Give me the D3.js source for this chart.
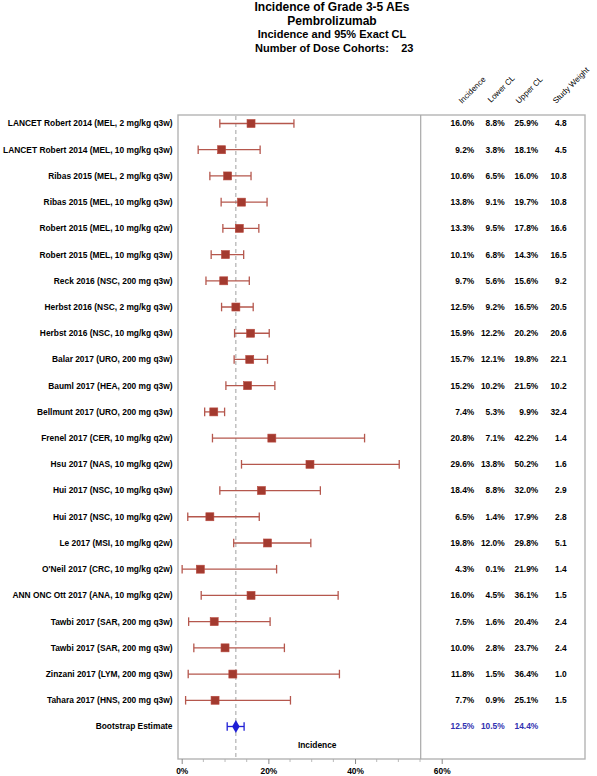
<!DOCTYPE html>
<html><head><meta charset="utf-8">
<script src="https://cdn.jsdelivr.net/npm/d3@7"></script>
<style>
html,body{margin:0;padding:0;background:#fff;}
svg{display:block;font-family:"Liberation Sans",Arial,sans-serif;}
</style></head>
<body><svg id="c" width="597" height="776"></svg>
<script>
const studies = [
 "LANCET Robert 2014 (MEL, 2 mg/kg q3w)",
 "LANCET Robert 2014 (MEL, 10 mg/kg q3w)",
 "Ribas 2015 (MEL, 2 mg/kg q3w)",
 "Ribas 2015 (MEL, 10 mg/kg q3w)",
 "Robert 2015 (MEL, 10 mg/kg q2w)",
 "Robert 2015 (MEL, 10 mg/kg q3w)",
 "Reck 2016 (NSC, 200 mg q3w)",
 "Herbst 2016 (NSC, 2 mg/kg q3w)",
 "Herbst 2016 (NSC, 10 mg/kg q3w)",
 "Balar 2017 (URO, 200 mg q3w)",
 "Bauml 2017 (HEA, 200 mg q3w)",
 "Bellmunt 2017 (URO, 200 mg q3w)",
 "Frenel 2017 (CER, 10 mg/kg q2w)",
 "Hsu 2017 (NAS, 10 mg/kg q2w)",
 "Hui 2017 (NSC, 10 mg/kg q3w)",
 "Hui 2017 (NSC, 10 mg/kg q2w)",
 "Le 2017 (MSI, 10 mg/kg q2w)",
 "O'Neil 2017 (CRC, 10 mg/kg q2w)",
 "ANN ONC Ott 2017 (ANA, 10 mg/kg q2w)",
 "Tawbi 2017 (SAR, 200 mg q3w)",
 "Tawbi 2017 (SAR, 200 mg q3w) ",
 "Zinzani 2017 (LYM, 200 mg q3w)",
 "Tahara 2017 (HNS, 200 mg q3w)"
];
const incidence = [16.0,9.2,10.6,13.8,13.3,10.1,9.7,12.5,15.9,15.7,15.2,7.4,20.8,29.6,18.4,6.5,19.8,4.3,16.0,7.5,10.0,11.8,7.7];
const lowerCL   = [8.8,3.8,6.5,9.1,9.5,6.8,5.6,9.2,12.2,12.1,10.2,5.3,7.1,13.8,8.8,1.4,12.0,0.1,4.5,1.6,2.8,1.5,0.9];
const upperCL   = [25.9,18.1,16.0,19.7,17.8,14.3,15.6,16.5,20.2,19.8,21.5,9.9,42.2,50.2,32.0,17.9,29.8,21.9,36.1,20.4,23.7,36.4,25.1];
const weights   = [4.8,4.5,10.8,10.8,16.6,16.5,9.2,20.5,20.6,22.1,10.2,32.4,1.4,1.6,2.9,2.8,5.1,1.4,1.5,2.4,2.4,1.0,1.5];
const bootLabel = "Bootstrap Estimate";
const bootEst = 12.5, bootLower = 10.5, bootUpper = 14.4;
const xTicks = [0,20,40,60];
const colHeaders = ["Incidence","Lower CL","Upper CL","Study Weight"];
const titleLines = ["Incidence of Grade 3-5 AEs","Pembrolizumab","Incidence and 95% Exact CL"];
const nCohorts = 23;

const svg = d3.select("#c");
const FONT = 8.4;
const fL = 178, fR = 585, fT = 115, fB = 759, divX = 420.7;
const x = d3.scaleLinear().domain([0,60]).range([181.7,441.7]);
const rows = studies.concat([bootLabel]);
const y = d3.scalePoint().domain(rows).range([123.5,726.5]);

// titles
const tcx = 332;
svg.append("text").attr("x",tcx).attr("y",11).attr("text-anchor","middle")
  .attr("font-size",12).attr("font-weight","bold").text(titleLines[0]);
svg.append("text").attr("x",tcx).attr("y",25).attr("text-anchor","middle")
  .attr("font-size",12).attr("font-weight","bold").text(titleLines[1]);
svg.append("text").attr("x",tcx).attr("y",38).attr("text-anchor","middle")
  .attr("font-size",11).attr("font-weight","bold").text(titleLines[2]);
svg.append("text").attr("x",255).attr("y",51.5)
  .attr("font-size",11).attr("font-weight","bold").text("Number of Dose Cohorts:");
svg.append("text").attr("x",413.5).attr("y",51.5).attr("text-anchor","end")
  .attr("font-size",11).attr("font-weight","bold").text(nCohorts);

// frame
svg.append("rect").attr("x",fL).attr("y",fT).attr("width",fR-fL).attr("height",fB-fT)
  .attr("fill","none").attr("stroke","#b4b4b4").attr("stroke-width",1.4);
svg.append("line").attr("x1",divX).attr("x2",divX).attr("y1",fT).attr("y2",fB)
  .attr("stroke","#a8a8a8").attr("stroke-width",1.2);

// reference dashed line
svg.append("line").attr("x1",x(bootEst)).attr("x2",x(bootEst)).attr("y1",fT+1).attr("y2",fB)
  .attr("stroke","#a0a0a0").attr("stroke-width",1).attr("stroke-dasharray","4,3");

// axis
const axis = d3.axisBottom(x).tickValues(xTicks).tickFormat(d=>d+"%").tickSize(5).tickPadding(4);
const ag = svg.append("g").attr("transform",`translate(0,${fB})`).call(axis);
ag.select(".domain").remove();
ag.selectAll(".tick line").attr("stroke","#888");
ag.selectAll(".tick text").attr("font-size",FONT).attr("font-weight","bold")
  .attr("font-family","Liberation Sans,Arial,sans-serif").attr("fill","#000");
const minor = d3.range(5,60,5).filter(v=>v%20!==0);
svg.append("g").selectAll("line").data(minor).join("line")
  .attr("x1",d=>x(d)).attr("x2",d=>x(d)).attr("y1",fB).attr("y2",fB+3)
  .attr("stroke","#aaa").attr("stroke-width",0.8);

// row labels
svg.append("g").selectAll("text").data(rows).join("text")
  .attr("x",172.5).attr("y",d=>y(d)).attr("dy","0.35em").attr("text-anchor","end")
  .attr("font-size",FONT).attr("font-weight","bold").text(d=>d.trim());

// study whiskers
const wCol = "#b5574d", mCol = "#a33a2f";
const g = svg.append("g");
const data = studies.map((s,i)=>({s, inc:incidence[i], lo:lowerCL[i], hi:upperCL[i], w:weights[i]}));
g.selectAll("line.ci").data(data).join("line").attr("class","ci")
  .attr("x1",d=>x(d.lo)).attr("x2",d=>x(d.hi)).attr("y1",d=>y(d.s)).attr("y2",d=>y(d.s))
  .attr("stroke",wCol).attr("stroke-width",1.3);
g.selectAll("line.capL").data(data).join("line").attr("class","capL")
  .attr("x1",d=>x(d.lo)).attr("x2",d=>x(d.lo)).attr("y1",d=>y(d.s)-4.3).attr("y2",d=>y(d.s)+4.3)
  .attr("stroke",wCol).attr("stroke-width",1.3);
g.selectAll("line.capH").data(data).join("line").attr("class","capH")
  .attr("x1",d=>x(d.hi)).attr("x2",d=>x(d.hi)).attr("y1",d=>y(d.s)-4.3).attr("y2",d=>y(d.s)+4.3)
  .attr("stroke",wCol).attr("stroke-width",1.3);
const ms = 8;
g.selectAll("rect.m").data(data).join("rect").attr("class","m")
  .attr("x",d=>x(d.inc)-ms/2).attr("y",d=>y(d.s)-ms/2).attr("width",ms).attr("height",ms)
  .attr("fill",mCol).attr("stroke","#b8493e").attr("stroke-width",0.6);

// bootstrap
const bCol = "#1f1fd6", bTxt = "#3030b0";
const by = y(bootLabel);
svg.append("line").attr("x1",x(bootLower)).attr("x2",x(bootUpper)).attr("y1",by).attr("y2",by)
  .attr("stroke",bCol).attr("stroke-width",1.3);
[bootLower,bootUpper].forEach(v=>svg.append("line").attr("x1",x(v)).attr("x2",x(v))
  .attr("y1",by-4.3).attr("y2",by+4.3).attr("stroke",bCol).attr("stroke-width",1.3));
svg.append("path").attr("d",d3.symbol().type(d3.symbolDiamond).size(48)())
  .attr("transform",`translate(${x(bootEst)},${by})`).attr("fill",bCol);

// x axis label inside
svg.append("text").attr("x",317.2).attr("y",y(bootLabel)+19).attr("dy","0.35em")
  .attr("text-anchor","middle").attr("font-size",FONT).attr("font-weight","bold").text("Incidence");

// table
const colR = [474.3,504.7,538.3,566.7];
const fmt = v=>v.toFixed(1)+"%";
const tg = svg.append("g").attr("font-size",FONT).attr("font-weight","bold").attr("text-anchor","end");
data.forEach(d=>{
  [fmt(d.inc),fmt(d.lo),fmt(d.hi),d.w.toFixed(1)].forEach((t,j)=>{
    tg.append("text").attr("x",colR[j]).attr("y",y(d.s)).attr("dy","0.35em").text(t);
  });
});
[fmt(bootEst),fmt(bootLower),fmt(bootUpper)].forEach((t,j)=>{
  tg.append("text").attr("x",colR[j]).attr("y",by).attr("dy","0.35em").attr("fill",bTxt).text(t);
});

// rotated headers
const hStart = [[462,104],[491,103],[519,104],[556,104]];
colHeaders.forEach((h,j)=>{
  svg.append("text").attr("transform",`translate(${hStart[j][0]},${hStart[j][1]}) rotate(-45)`)
    .attr("font-size",8).text(h);
});
</script></body></html>
